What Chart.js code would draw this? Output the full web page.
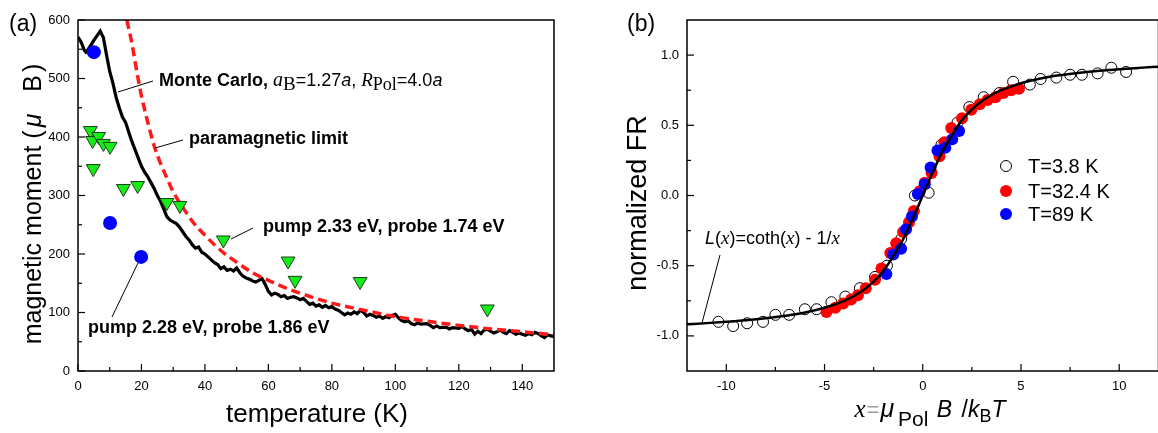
<!DOCTYPE html>
<html>
<head>
<meta charset="utf-8">
<script src="https://cdn.jsdelivr.net/npm/chart.js@4.4.1/dist/chart.umd.min.js"></script>
<style>
  html, body { margin: 0; padding: 0; background: #fff; overflow: hidden; width: 1158px; height: 433px; }
  #wrapA { position: absolute; left: 0; top: 0; }
  #wrapB { position: absolute; left: 580px; top: 0; }
</style>
</head>
<body>
<div id="wrapA"><canvas id="chartA" width="580" height="433"></canvas></div>
<div id="wrapB"><canvas id="chartB" width="585" height="433"></canvas></div>
<script>
// ================= (a) data =================
const mcTemp = [0, 1, 2, 2.5, 3, 5, 7, 8, 9, 10, 11, 12, 13, 14, 15, 16, 17, 18, 19, 20,
  21, 22, 23, 24, 25, 26, 27, 28, 29, 30, 31, 32, 33, 34, 35, 36, 37, 38, 39, 40,
  41, 42, 43, 44, 45, 46, 47, 48, 49, 50, 51, 52, 53, 54, 55, 56, 57, 58, 59, 60,
  61, 62, 63, 64, 65, 66, 67, 68, 69, 70, 71, 72, 73, 74, 75, 76, 77, 78, 79, 80,
  81, 82, 83, 84, 85, 86, 87, 88, 89, 90, 91, 92, 93, 94, 95, 96, 97, 98, 99, 100,
  101, 102, 103, 104, 105, 106, 107, 108, 110, 111, 112, 113, 114, 116, 117, 118, 120,
  121, 122, 123, 124, 125, 126, 127, 128, 129, 130, 131, 132, 133, 134, 135, 136, 137,
  138, 139, 140, 141, 142, 143, 144, 145, 146, 147, 148, 149, 150];
const mcMoment = [571, 562, 548, 545, 548, 565, 581, 570, 540, 512, 492, 468, 450, 434, 425, 408, 392, 378, 364, 350,
  340, 332, 322, 312, 300, 290, 277, 264, 258, 255, 252, 246, 238, 230, 224, 216, 210, 212, 203, 200,
  195, 190, 185, 182, 175, 178, 172, 174, 171, 176, 168, 162, 159, 157, 154, 152, 155, 158, 148, 136,
  130, 133, 131, 127, 129, 124, 126, 127, 125, 122, 124, 119, 114, 116, 111, 113, 109, 112, 108, 110,
  106, 104, 100, 96, 99, 97, 101, 98, 104, 100, 94, 97, 95, 92, 94, 90, 93, 91, 95, 97,
  91, 86, 84, 86, 81, 79, 82, 80, 81, 78, 74, 77, 74, 75, 72, 74, 73,
  76, 72, 69, 71, 63, 68, 64, 70, 71, 68, 65, 67, 70, 66, 64, 69, 66,
  63, 65, 63, 61, 64, 62, 66, 64, 60, 57, 62, 60, 59];

const paraTemp = [15.4, 16, 17, 18, 19, 20, 22, 24, 26, 28, 30, 33, 36, 40, 45, 50, 55, 60, 65, 70, 80, 90, 100, 110, 120, 130, 140, 150];
const paraMoment = [600, 585, 560, 528, 498, 470, 425, 385, 355, 330, 306, 280, 256, 232, 206, 186, 168, 155, 143, 133, 116, 104, 93, 85, 78, 72, 67, 62];

const triTemp = [3.9, 4.6, 6.5, 8.0, 10.1, 4.8, 14.3, 18.8, 28.0, 32.1, 45.8, 66.2, 68.4, 88.9, 129.0];
const triMoment = [411, 394, 401, 389, 384, 346, 312, 317, 288, 283, 224, 188, 155, 153, 106];

const dotTemp = [5.0, 10.1, 19.9];
const dotMoment = [545, 253, 195];

const tempTicks = [0, 20, 40, 60, 80, 100, 120, 140];
const tempMinor = [10, 30, 50, 70, 90, 110, 130, 150];
const momentTicks = [0, 100, 200, 300, 400, 500, 600];
const momentMinor = [50, 150, 250, 350, 450, 550];

// ================= (b) data =================
const lowX = [-10.4, -9.65, -8.94, -8.13, -7.5, -6.8, -6.0, -5.4, -4.65, -3.94, -3.2, -2.43, -1.82, -1.1, -0.4,
  0.3, 0.95, 1.77, 2.37, 3.1, 3.9, 4.6, 5.45, 6.0, 6.8, 7.5, 8.1, 8.9, 9.6, 10.35];
const lowFR = [-0.90, -0.93, -0.91, -0.90, -0.85, -0.85, -0.81, -0.81, -0.76, -0.72, -0.66, -0.58, -0.50, -0.31, 0.00,
  0.02, 0.36, 0.52, 0.63, 0.70, 0.73, 0.81, 0.79, 0.83, 0.84, 0.86, 0.86, 0.87, 0.91, 0.88];

const midX = [-4.9, -4.45, -4.05, -3.65, -3.3, -2.9, -2.43, -2.1, -1.65, -1.35, -1.0, -0.7, -0.45, -0.15,
  0.1, 0.45, 0.85, 1.1, 1.45, 2.0, 2.47, 2.9, 3.3, 3.7, 4.1, 4.5, 4.9];
const midFR = [-0.83, -0.80, -0.77, -0.74, -0.71, -0.66, -0.60, -0.52, -0.41, -0.34, -0.26, -0.19, -0.11, 0.03,
  0.09, 0.16, 0.28, 0.38, 0.48, 0.55, 0.61, 0.65, 0.68, 0.70, 0.73, 0.75, 0.76];

const highX = [-1.85, -1.5, -1.1, -0.85, -0.55, -0.25, 0.1, 0.4, 0.75, 1.15, 1.5, 1.85];
const highFR = [-0.56, -0.42, -0.38, -0.24, -0.15, 0.01, 0.08, 0.20, 0.32, 0.34, 0.40, 0.46];

const fitX = [-12, -11, -10, -9, -8, -7, -6, -5, -4, -3.5, -3, -2.5, -2, -1.5, -1, -0.5, 0,
  0.5, 1, 1.5, 2, 2.5, 3, 3.5, 4, 5, 6, 7, 8, 9, 10, 11, 12];
const fitFR = [-0.917, -0.909, -0.90, -0.889, -0.875, -0.857, -0.834, -0.80, -0.75, -0.716, -0.672, -0.614, -0.537, -0.432, -0.313, -0.164, 0,
  0.164, 0.313, 0.432, 0.537, 0.614, 0.672, 0.716, 0.75, 0.80, 0.834, 0.857, 0.875, 0.889, 0.90, 0.909, 0.917];

const xTicks = [-10, -5, 0, 5, 10];
const xMinor = [-12.5, -7.5, -2.5, 2.5, 7.5, 12.5];
const frTicks = [-1.0, -0.5, 0.0, 0.5, 1.0];
const frMinor = [-0.75, -0.25, 0.25, 0.75];

const legendLabels = ["T=3.8 K", "T=32.4 K", "T=89 K"];

// ================= helpers =================
const SANS = '"Liberation Sans", Arial, sans-serif';
const SERIF = '"Liberation Serif", "Times New Roman", serif';
Chart.defaults.font.family = SANS;
Chart.defaults.color = "#000";

const pts = (xs, ys) => xs.map((x, i) => ({ x, y: ys[i] }));

function richWidth(ctx, parts) {
  let w = 0;
  parts.forEach(p => { ctx.font = p.f; w += ctx.measureText(p.t).width + (p.gap || 0); });
  return w;
}

function drawRich(ctx, x, y, parts) {
  let cx = x;
  parts.forEach(p => {
    ctx.font = p.f;
    ctx.fillStyle = p.c || "#000";
    ctx.fillText(p.t, cx, y + (p.dy || 0));
    cx += ctx.measureText(p.t).width + (p.gap || 0);
  });
}

function line(ctx, x1, y1, x2, y2) {
  ctx.beginPath();
  ctx.moveTo(x1, y1);
  ctx.lineTo(x2, y2);
  ctx.stroke();
}

// frame + inward ticks
function frameTicks(xMaj, xMin, yMaj, yMin) {
  return {
    id: "frameTicks",
    afterDatasetsDraw(chart) {
      const { ctx, chartArea: a, scales } = chart;
      ctx.save();
      ctx.strokeStyle = "#000";
      ctx.lineWidth = 1.5;
      ctx.strokeRect(a.left, a.top, a.right - a.left, a.bottom - a.top);
      ctx.lineWidth = 1.2;
      xMaj.forEach(v => { const p = scales.x.getPixelForValue(v); line(ctx, p, a.bottom, p, a.bottom - 7); });
      xMin.forEach(v => { const p = scales.x.getPixelForValue(v); if (p > a.left && p < a.right) line(ctx, p, a.bottom, p, a.bottom - 4); });
      yMaj.forEach(v => { const p = scales.y.getPixelForValue(v); line(ctx, a.left, p, a.left + 7, p); });
      yMin.forEach(v => { const p = scales.y.getPixelForValue(v); line(ctx, a.left, p, a.left + 4, p); });
      ctx.restore();
    }
  };
}

// ================= (a) labels =================
const labelsA = {
  id: "labelsA",
  afterDraw(chart) {
    const ctx = chart.ctx;
    ctx.save();
    ctx.textBaseline = "alphabetic";
    ctx.fillStyle = "#000";
    ctx.font = "23px " + SANS;
    ctx.fillText("(a)", 9, 31);

    // axis titles
    ctx.font = "26px " + SANS;
    ctx.textAlign = "center";
    ctx.fillText("temperature (K)", 317, 422);
    ctx.textAlign = "left";

    const yt = [
      { t: "magnetic moment (", f: "25px " + SANS, gap: 3 },
      { t: "μ", f: "italic 25px " + SANS, gap: 22 },
      { t: "B", f: "25px " + SANS, gap: 3 },
      { t: ")", f: "25px " + SANS }
    ];
    ctx.save();
    ctx.translate(41, 204);
    ctx.rotate(-Math.PI / 2);
    drawRich(ctx, -richWidth(ctx, yt) / 2, 0, yt);
    ctx.restore();

    // annotations
    ctx.strokeStyle = "#000";
    ctx.lineWidth = 1;
    drawRich(ctx, 159, 86, [
      { t: "Monte Carlo, ", f: "bold 18px " + SANS },
      { t: "a", f: "italic 20px " + SERIF },
      { t: "B", f: "19px " + SERIF, dy: 4 },
      { t: "=1.27", f: "18px " + SANS },
      { t: "a", f: "italic 18px " + SANS },
      { t: ", ", f: "18px " + SANS },
      { t: "R", f: "italic 19px " + SERIF },
      { t: "Pol", f: "18px " + SERIF, dy: 4 },
      { t: "=4.0", f: "18px " + SANS },
      { t: "a", f: "italic 18px " + SANS }
    ]);
    line(ctx, 118, 92, 153, 81);

    ctx.font = "bold 18px " + SANS;
    ctx.fillText("paramagnetic limit", 189, 144);
    line(ctx, 155, 148, 183, 140);

    ctx.fillText("pump 2.33 eV, probe 1.74 eV", 263, 232);
    line(ctx, 231, 239, 253, 228);

    ctx.fillText("pump 2.28 eV, probe 1.86 eV", 88, 333);
    line(ctx, 112, 317, 138, 263);
    ctx.restore();
  }
};

// ================= (b) labels + legend =================
const labelsB = {
  id: "labelsB",
  afterDraw(chart) {
    const ctx = chart.ctx;
    ctx.save();
    ctx.fillStyle = "#000";
    ctx.font = "23px " + SANS;
    ctx.fillText("(b)", 47, 31);

    ctx.save();
    ctx.translate(66, 203);
    ctx.rotate(-Math.PI / 2);
    ctx.font = "27px " + SANS;
    ctx.textAlign = "center";
    ctx.fillText("normalized FR", 0, 0);
    ctx.restore();

    const xt = [
      { t: "x", f: "italic 25px " + SERIF, gap: 1 },
      { t: "=", f: "22px " + SANS, c: "#9a9a9a", gap: 1 },
      { t: "μ", f: "italic 25px " + SANS, gap: 4 },
      { t: "Pol", f: "21px " + SANS, dy: 9, gap: 2 },
      { t: " B", f: "italic 23px " + SANS, gap: 3 },
      { t: " /", f: "23px " + SANS },
      { t: "k", f: "italic 23px " + SANS },
      { t: "B", f: "18px " + SANS, dy: 5 },
      { t: "T", f: "italic 23px " + SANS }
    ];
    drawRich(ctx, 350 - richWidth(ctx, xt) / 2, 417, xt);

    // L(x) annotation
    drawRich(ctx, 125, 244, [
      { t: "L", f: "italic 18px " + SANS },
      { t: "(", f: "18px " + SANS },
      { t: "x", f: "italic 19px " + SERIF },
      { t: ")=coth(", f: "18px " + SANS },
      { t: "x", f: "italic 19px " + SERIF },
      { t: ") - 1/", f: "18px " + SANS },
      { t: "x", f: "italic 19px " + SERIF }
    ]);
    ctx.strokeStyle = "#000";
    ctx.lineWidth = 1;
    line(ctx, 140, 255, 122, 323);

    // legend
    const ds = chart.data.datasets;
    const rows = [166, 191, 214];
    [3, 2, 1].forEach((di, i) => {
      const d = ds[di];
      ctx.beginPath();
      ctx.arc(426, rows[i], d.pointRadius, 0, Math.PI * 2);
      ctx.fillStyle = d.backgroundColor;
      ctx.fill();
      if (d.borderWidth) { ctx.lineWidth = d.borderWidth; ctx.strokeStyle = d.borderColor; ctx.stroke(); }
      ctx.fillStyle = "#000";
      ctx.font = "20px " + SANS;
      ctx.textBaseline = "middle";
      ctx.fillText(legendLabels[i], 448, rows[i] + 1);
    });
    ctx.restore();
  }
};

// ================= (a) chart =================
new Chart(document.getElementById("chartA"), {
  type: "scatter",
  data: {
    datasets: [
      {
        label: "Monte Carlo",
        data: pts(mcTemp, mcMoment),
        showLine: true,
        borderColor: "#000",
        borderWidth: 3.2,
        pointRadius: 0,
        tension: 0,
        order: 3
      },
      {
        label: "paramagnetic limit",
        data: pts(paraTemp, paraMoment),
        showLine: true,
        borderColor: "#ff1a1a",
        borderWidth: 3.5,
        borderDash: [9, 5],
        pointRadius: 0,
        cubicInterpolationMode: "monotone",
        order: 2
      },
      {
        label: "pump 2.33 eV",
        data: pts(triTemp, triMoment),
        pointStyle: "triangle",
        rotation: 180,
        pointRadius: 8,
        backgroundColor: "#18ec18",
        borderColor: "#1b3d1b",
        borderWidth: 1,
        order: 1
      },
      {
        label: "pump 2.28 eV",
        data: pts(dotTemp, dotMoment),
        pointRadius: 7,
        backgroundColor: "#0000ff",
        borderWidth: 0,
        order: 0
      }
    ]
  },
  options: {
    responsive: false,
    animation: false,
    layout: { padding: { left: 0, top: 20, right: 26, bottom: 0 } },
    plugins: { legend: { display: false }, tooltip: { enabled: false } },
    scales: {
      x: {
        type: "linear", min: 0, max: 150,
        grid: { display: false, drawTicks: false },
        border: { display: false },
        afterBuildTicks: s => { s.ticks = tempTicks.map(v => ({ value: v })); },
        afterFit: s => { s.height = 62; },
        ticks: { font: { size: 13 }, padding: 8, maxRotation: 0, autoSkip: false, color: "#000" }
      },
      y: {
        type: "linear", min: 0, max: 600,
        grid: { display: false, drawTicks: false },
        border: { display: false },
        afterBuildTicks: s => { s.ticks = momentTicks.map(v => ({ value: v })); },
        afterFit: s => { s.width = 78; },
        ticks: { font: { size: 13 }, padding: 8, autoSkip: false, color: "#000" }
      }
    }
  },
  plugins: [frameTicks(tempTicks, tempMinor, momentTicks, momentMinor), labelsA]
});

// ================= (b) chart =================
new Chart(document.getElementById("chartB"), {
  type: "scatter",
  data: {
    datasets: [
      {
        label: "L(x)",
        data: pts(fitX, fitFR),
        showLine: true,
        borderColor: "#000",
        borderWidth: 2.5,
        pointRadius: 0,
        cubicInterpolationMode: "monotone",
        order: 0
      },
      {
        label: legendLabels[2],
        data: pts(highX, highFR),
        pointRadius: 6,
        backgroundColor: "#0000ff",
        borderWidth: 0,
        order: 1
      },
      {
        label: legendLabels[1],
        data: pts(midX, midFR),
        pointRadius: 6,
        backgroundColor: "#ff0000",
        borderWidth: 0,
        order: 2
      },
      {
        label: legendLabels[0],
        data: pts(lowX, lowFR),
        pointRadius: 5.5,
        backgroundColor: "#ffffff",
        borderColor: "#000",
        borderWidth: 1,
        order: 3
      }
    ]
  },
  options: {
    responsive: false,
    animation: false,
    layout: { padding: { left: 0, top: 20, right: 2, bottom: 0 } },
    plugins: { legend: { display: false }, tooltip: { enabled: false } },
    scales: {
      x: {
        type: "linear", min: -12, max: 12,
        grid: { display: false, drawTicks: false },
        border: { display: false },
        afterBuildTicks: s => { s.ticks = xTicks.map(v => ({ value: v })); },
        afterFit: s => { s.height = 62; },
        ticks: { font: { size: 13 }, padding: 8, maxRotation: 0, autoSkip: false, color: "#000" }
      },
      y: {
        type: "linear", min: -1.25, max: 1.25,
        grid: { display: false, drawTicks: false },
        border: { display: false },
        afterBuildTicks: s => { s.ticks = frTicks.map(v => ({ value: v })); },
        afterFit: s => { s.width = 107; },
        ticks: { font: { size: 13 }, padding: 8, autoSkip: false, color: "#000", callback: v => v.toFixed(1) }
      }
    }
  },
  plugins: [frameTicks(xTicks, xMinor, frTicks, frMinor), labelsB]
});
</script>
</body>
</html>
